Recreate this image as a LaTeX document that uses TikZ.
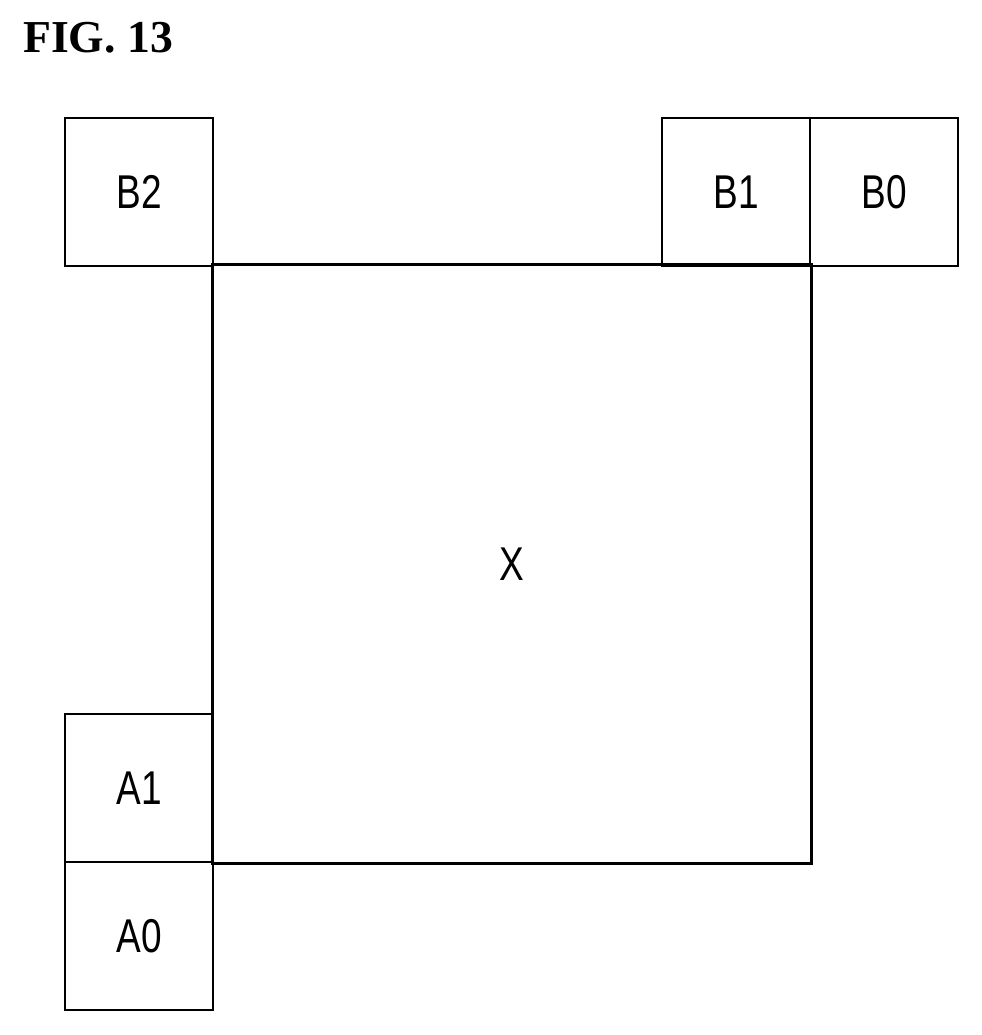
\documentclass[tikz,border=0pt]{standalone}
\usepackage{fontspec}
\setmainfont{Liberation Serif}
\newfontfamily\labelfont{Liberation Sans}
\usetikzlibrary{positioning}
\newcommand{\narrow}[1]{\scalebox{0.78}[1]{#1}}
\tikzset{cell/.style={draw,line width=1.6pt,minimum width=2.96cm,minimum height=2.96cm,
  inner sep=0pt,font=\labelfont\fontsize{27}{29}\selectfont},
  blockx/.style={line width=1.6pt}}
\begin{document}
\begin{tikzpicture}[x=0.02cm,y=-0.02cm,line cap=round]
  \useasboundingbox (0,0) rectangle (982,1035);

  \node[anchor=west,font=\bfseries\fontsize{26}{28}\selectfont] (title) at (17,38) {FIG. 13};

  % current block
  \node[cell,minimum width=11.94cm,minimum height=11.92cm,draw=none] (x) at (512,564) {\narrow{X}};
  \draw[blockx] (x.north west) -- (x.north east) -- (x.south east) -- (x.south west) -- cycle;

  % neighbours
  \node[cell] (b2) at (139,192) {\narrow{B2}};
  \node[cell] (b1) at (736,192) {\narrow{B1}};
  \node[cell,right=-1.6pt of b1] (b0) {\narrow{B0}};
  \node[cell] (a1) at (139,788) {\narrow{A1}};
  \node[cell,below=-1.6pt of a1] (a0) {\narrow{A0}};
\end{tikzpicture}
\end{document}
